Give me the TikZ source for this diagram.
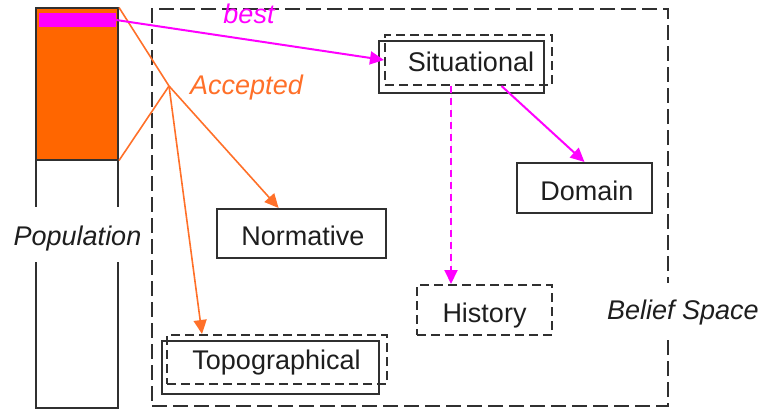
\documentclass[tikz,border=0pt]{standalone}
\usepackage{fontspec}
\setmainfont{Liberation Sans}
\usetikzlibrary{arrows.meta}
\definecolor{popfill}{HTML}{FF6600}
\definecolor{accline}{HTML}{FF7029}
\definecolor{bestmag}{HTML}{FF00FF}
\definecolor{ink}{HTML}{1E1E1E}
\definecolor{frame}{HTML}{303030}

\begin{document}
\begin{tikzpicture}[x=1pt,y=-1pt,
  every node/.style={font=\fontsize{27}{32}\selectfont, text=ink},
  box/.style={draw=frame, line width=2pt, inner sep=0pt, rectangle},
  dbox/.style={box, dash pattern=on 9pt off 5pt},
  spacebox/.style={box, dash pattern=on 15pt off 6pt},
  lbl/.style={anchor=base, inner sep=0pt},
  tip/.style={-{Triangle[length=14pt,width=13pt]}},
  accline/.style={draw=accline, line width=1.6pt},
  magline/.style={draw=bestmag, line width=2pt},
]
\useasboundingbox (0,0) rectangle (765,409);

% belief space frame
\node[spacebox, minimum width=516pt, minimum height=397pt] (belief) at (410,207.5) {};

% population column with accepted block and best individual
\node[box, minimum width=82pt, minimum height=400pt] (popcol) at (77,208) {};
\node[box, fill=popfill, minimum width=82pt, minimum height=151pt] (accblock) at (77,84) {};
\node[fill=bestmag, inner sep=0pt, minimum width=77pt, minimum height=14pt] (bestbar) at (77.5,20) {};

% knowledge sources
\node[box, minimum width=165pt, minimum height=52pt] (sit) at (461.5,67) {};
\node[dbox, minimum width=167pt, minimum height=50pt] (sitD) at (468.5,60) {};
\node[lbl] (sitT) at (471,72) {Situational};

\node[box, minimum width=135pt, minimum height=50pt] (dom) at (584.5,188) {};
\node[lbl] (domT) at (587,200) {Domain};

\node[box, minimum width=169pt, minimum height=49pt] (norm) at (301.5,233.5) {};
\node[lbl] (normT) at (303,245) {Normative};

\node[dbox, minimum width=135pt, minimum height=50pt] (hist) at (484.5,310) {};
\node[lbl] (histT) at (484.5,322) {History};

\node[box, minimum width=217pt, minimum height=53pt] (topo) at (270.5,367.5) {};
\node[dbox, minimum width=220pt, minimum height=49pt] (topoD) at (277,359.5) {};
\node[lbl] (topoT) at (276.5,369) {Topographical};

% acceptance funnel
\coordinate (acc) at (169,86);
\draw[accline] (accblock.north east) -- (acc);
\draw[accline] (accblock.south east) -- (acc);
\draw[accline, tip, fill=accline] (acc) -- (norm);
\draw[accline, tip, fill=accline] (acc) -- ([xshift=-75pt]topoD.north);

% influence of the best individual
\draw[magline, tip, fill=bestmag] (bestbar.east) -- (sitD.west);
\draw[magline, tip, fill=bestmag] ([xshift=33pt]sitD.south) -- (dom.north);
\coordinate (hsrc) at ([xshift=-17.5pt]sitD.south);
\draw[magline, tip, fill=bestmag, dash pattern=on 7pt off 5pt] (hsrc) -- (hsrc |- hist.north);

% labels
\node[lbl, text=bestmag, font=\fontsize{27}{32}\selectfont\itshape] (bestT) at (249,24) {best};
\node[lbl, text=accline, font=\fontsize{27}{32}\selectfont\itshape] (accT) at (246.5,95) {Accepted};
\node[lbl, fill=white, inner xsep=1pt, text height=38pt, text depth=17pt, font=\fontsize{27}{32}\selectfont\itshape] (popT) at (77.5,245) {Population};
\node[lbl, fill=white, inner xsep=1pt, text height=36pt, text depth=18pt, font=\fontsize{27}{32}\selectfont\itshape] (beliefT) at (683,319) {Belief Space};
\end{tikzpicture}
\end{document}
